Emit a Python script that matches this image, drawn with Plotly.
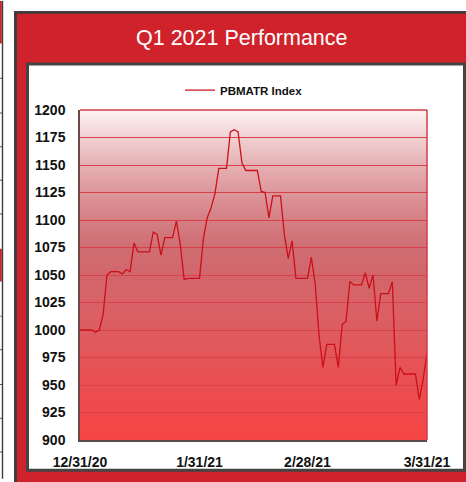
import numpy as np
import pandas as pd
import plotly.graph_objects as go

# ---------------- data ----------------
dates = pd.date_range("2020-12-31", "2021-03-31", freq="D")
pbmatr_index = [
    1000, 1000, 1000, 1000, 998, 1000, 1014, 1050, 1053, 1053,
    1053, 1051, 1055, 1053, 1079, 1071, 1071, 1071, 1071, 1089,
    1087, 1068, 1084, 1084, 1084, 1099, 1078, 1046, 1047, 1047,
    1047, 1047, 1083, 1102, 1111, 1124, 1147, 1147, 1147, 1180,
    1182, 1180, 1152, 1145, 1145, 1145, 1145, 1126, 1125, 1102,
    1122, 1122, 1122, 1087, 1065, 1081, 1047, 1047, 1047, 1047,
    1066, 1042, 995, 966, 987, 987, 987, 966, 1005, 1008,
    1044, 1041, 1041, 1041, 1052, 1038, 1050, 1008, 1033, 1033,
    1033, 1044, 950, 966, 960, 960, 960, 960, 937, 955,
    980,
]
series_name = "PBMATR Index"
title_text = "Q1 2021 Performance"
x_tick_vals = ["2020-12-31", "2021-01-31", "2021-02-28", "2021-03-31"]
x_tick_text = ["12/31/20", "1/31/21", "2/28/21", "3/31/21"]
y_range = [900, 1200]
y_step = 25

# ---------------- geometry (pixels) ----------------
W, H = 466, 482
PL, PR, PT, PB = 80, 427, 110, 443  # plot area


def px(x):
    return (x - PL) / (PR - PL)


def py(y):
    return (PB - y) / (PB - PT)


def rect(x0, y0, x1, y1, color, layer="below"):
    return dict(type="rect", xref="paper", yref="paper",
                x0=px(x0), x1=px(x1), y0=py(y1), y1=py(y0),
                fillcolor=color, line=dict(width=0), layer=layer)


shapes = []
# left neighbouring panel edge
shapes.append(rect(0, 0, 1.8, 43, "#d0222b"))
shapes.append(rect(0, 250, 1.8, 283, "#d0222b"))
for yy in [78, 113, 147, 181, 215, 318, 352, 387, 421, 455]:
    shapes.append(rect(0, yy - 0.5, 2, yy + 0.5, "#555555"))
shapes.append(rect(1.8, 0, 3.2, H, "#3c3c3c"))
# outer red panel
shapes.append(rect(14, 10, W + 20, H + 20, "#3d3d3d"))
shapes.append(rect(17, 13, W + 20, H + 20, "#d0222b"))
# inner white panel
shapes.append(rect(26, 62, 466, 475, "#444444"))
shapes.append(rect(29, 65, 463, 472, "#ffffff"))

# gradient plot background (bands, overlapping to avoid seams)
stops_y = [110, 138, 165, 193, 221, 249, 276, 304, 332, 360, 387, 415, 443]
stops_c = ["#fcf3f3", "#f0d0d2", "#e6b2b5", "#dc979b", "#d47f84", "#cf6e73",
           "#d2666b", "#d86266", "#dd5c60", "#e45558", "#ea4f51", "#f0494b",
           "#f64545"]


def hex2rgb(h):
    h = h.lstrip("#")
    return [int(h[i:i + 2], 16) for i in (0, 2, 4)]


rgbs = np.array([hex2rgb(c) for c in stops_c], dtype=float)
band = 2
for y0 in range(PT, PB, band):
    yc = y0 + band / 2
    col = [np.interp(yc, stops_y, rgbs[:, k]) for k in range(3)]
    shapes.append(rect(PL, y0, PR, min(y0 + band + 2, PB),
                       "rgb(%d,%d,%d)" % tuple(int(round(v)) for v in col)))

# top and right red borders of plot area
shapes.append(dict(type="line", xref="paper", yref="paper", x0=0, x1=1, y0=1, y1=1,
                   line=dict(color="#d33d47", width=1.5), layer="above"))
shapes.append(dict(type="line", xref="paper", yref="paper", x0=1, x1=1, y0=0, y1=1,
                   line=dict(color="#d33d47", width=1.5), layer="above"))

fig = go.Figure()
fig.add_trace(go.Scatter(
    x=dates, y=pbmatr_index, mode="lines", name=series_name,
    line=dict(color="#cc0f19", width=1.3),
))

tick_font = dict(family="Liberation Sans, Arial, sans-serif", size=14,
                 color="#111111", weight="bold")

fig.update_layout(
    width=W, height=H,
    margin=dict(l=PL, r=W - PR, t=PT, b=H - PB, pad=0),
    paper_bgcolor="#ffffff",
    plot_bgcolor="rgba(0,0,0,0)",
    shapes=shapes,
    showlegend=True,
    legend=dict(orientation="h", x=px(180), xanchor="left",
                y=py(90), yanchor="middle",
                bgcolor="rgba(0,0,0,0)",
                font=dict(family="Liberation Sans, Arial, sans-serif", size=11.5,
                          color="#111111", weight="bold"),
                itemwidth=30),
    annotations=[dict(text=title_text, xref="paper", yref="paper",
                      x=px(242), y=py(37), xanchor="center", yanchor="middle",
                      showarrow=False,
                      font=dict(family="Liberation Sans, Arial, sans-serif",
                                size=21.5, color="#ffffff"))],
    xaxis=dict(type="date", range=[x_tick_vals[0], x_tick_vals[-1]],
               tickvals=x_tick_vals, ticktext=x_tick_text,
               showgrid=False, zeroline=False,
               showline=True, linecolor="#5a4a4a", linewidth=1.5,
               ticks="", tickfont=tick_font, ticklabelstandoff=8),
    yaxis=dict(range=y_range, dtick=y_step, tick0=y_range[0],
               showgrid=True, gridcolor="#d8404a", gridwidth=1,
               zeroline=False,
               showline=True, linecolor="#6d4646", linewidth=1.5,
               ticks="", tickfont=tick_font, ticklabelstandoff=10),
)

fig.write_html("out.html", config={"displayModeBar": False},
               post_script="document.body.style.margin='0';")
